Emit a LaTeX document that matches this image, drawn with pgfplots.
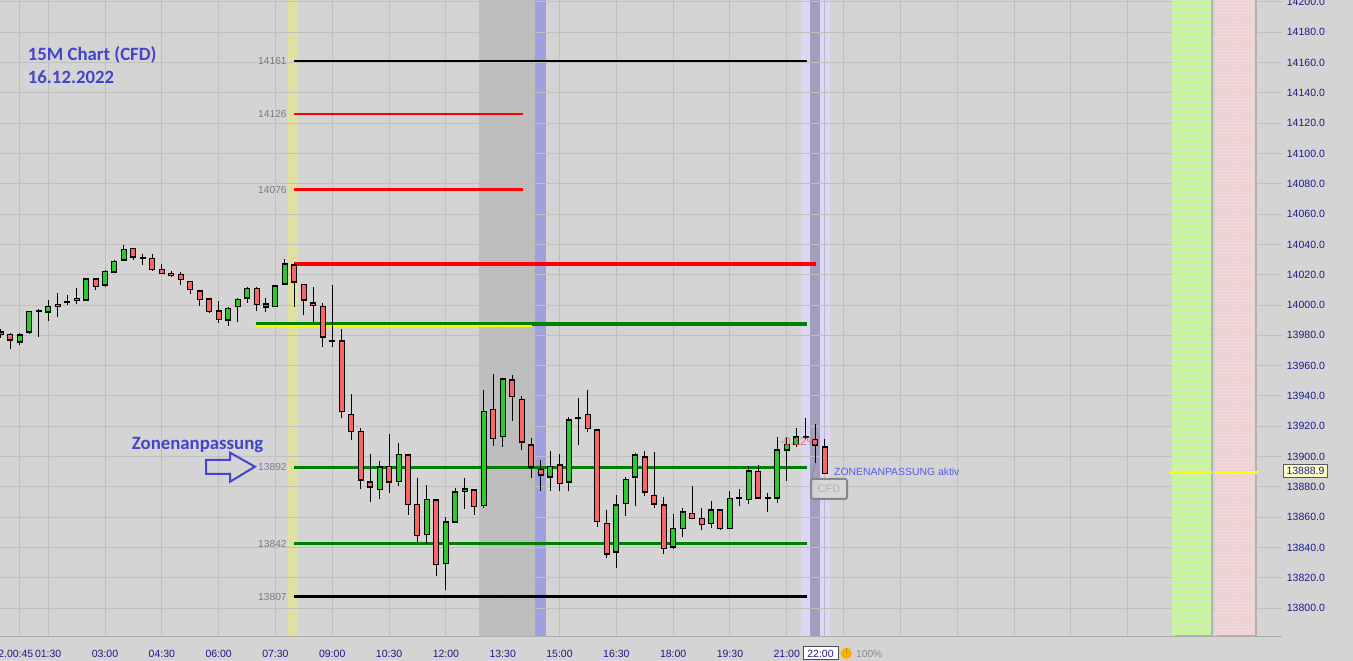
\documentclass[border=0pt]{standalone}
\usepackage{pgfplots}
\usepackage{pgfplotstable}
\pgfplotsset{compat=1.18}
\usepackage{fontspec}
\setmainfont{Liberation Sans}
\newfontfamily\calib{Carlito}
\usetikzlibrary{patterns.meta}

\definecolor{bg}{RGB}{212,212,212}
\definecolor{gridc}{RGB}{192,192,192}
\definecolor{navy}{RGB}{28,28,135}
\definecolor{lvlgrey}{RGB}{122,122,135}
\definecolor{titleblue}{RGB}{68,68,204}
\definecolor{cred}{RGB}{250,102,102}
\definecolor{cgreen}{RGB}{45,200,45}
\definecolor{lvlred}{RGB}{255,0,0}
\definecolor{lvlgreen}{RGB}{0,128,0}
\definecolor{lvlyellow}{RGB}{255,255,0}
\definecolor{bandyellow}{RGB}{224,224,160}
\definecolor{bandgrey}{RGB}{190,190,190}
\definecolor{bandblue}{RGB}{160,160,222}
\definecolor{bandlilac}{RGB}{220,214,245}
\definecolor{banddark}{RGB}{164,158,190}
\definecolor{vline}{RGB}{185,185,198}
\definecolor{pgreen}{RGB}{198,246,152}
\definecolor{pgreenl}{RGB}{214,232,204}
\definecolor{pred}{RGB}{240,208,208}
\definecolor{predl}{RGB}{229,222,222}
\definecolor{shadow}{RGB}{178,178,178}
\definecolor{sepgrey}{RGB}{172,172,172}
\definecolor{aktiv}{RGB}{90,90,230}
\definecolor{pctred}{RGB}{238,85,85}
\definecolor{tagyellow}{RGB}{255,255,204}
\definecolor{clockorange}{RGB}{255,175,0}
\definecolor{clockdark}{RGB}{215,130,0}

% 15-minute candles, n = quarter hours since 00:00
\pgfplotstableread{
n O H L C
1 13982.2 13984.4 13978.4 13980.6
2 13980.6 13981.3 13970.7 13976.7
3 13975.4 13981.5 13973.5 13980.0
4 13982.0 13996.0 13981.1 13995.8
5 13995.8 13997.6 13979.1 13996.0
6 13995.2 14003.3 13989.7 13999.1
7 13999.1 14007.7 13992.3 14000.4
8 14001.8 14006.4 14000.2 14001.9
9 14003.1 14011.0 14000.4 14004.4
10 14003.5 14017.0 14002.4 14017.0
11 14017.0 14017.0 14009.9 14012.3
12 14013.0 14023.1 14011.7 14022.2
13 14022.0 14029.7 14021.3 14028.8
14 14029.5 14039.6 14028.8 14036.7
15 14037.4 14037.4 14029.9 14031.5
16 14031.2 14033.4 14026.6 14031.1
17 14030.8 14033.7 14022.7 14023.5
18 14023.5 14027.1 14020.2 14020.9
19 14020.9 14022.2 14018.3 14019.6
20 14020.2 14021.6 14013.2 14016.9
21 14015.6 14015.6 14007.0 14010.3
22 14009.2 14009.9 13999.6 14003.7
23 14004.0 14004.0 13994.5 13995.8
24 13996.0 14002.6 13988.3 13990.5
25 13989.9 13998.9 13986.4 13997.8
26 13999.1 14004.4 13989.0 14003.7
27 14004.8 14012.1 14001.5 14011.0
28 14011.0 14012.1 13996.3 14000.4
29 14000.7 14004.4 13995.6 13998.5
30 13999.1 14013.2 13998.7 14012.5
31 14013.9 14030.4 14013.2 14027.1
32 14026.4 14027.5 13998.9 14015.0
33 14013.6 14013.6 13993.2 14003.3
34 14001.3 14011.7 13989.0 13999.8
35 13999.1 14001.5 13972.1 13978.7
36 13976.3 14013.2 13972.5 13976.2
37 13976.2 13983.9 13925.6 13929.8
38 13927.8 13941.3 13911.1 13916.6
39 13916.6 13918.6 13878.3 13884.3
40 13883.0 13901.7 13870.2 13879.7
41 13878.3 13897.0 13872.2 13892.9
42 13893.5 13914.9 13876.1 13883.0
43 13883.6 13908.9 13880.8 13901.4
44 13900.8 13901.4 13861.6 13868.4
45 13868.4 13885.8 13843.8 13847.8
46 13848.6 13881.2 13842.1 13871.7
47 13871.3 13872.0 13821.4 13828.8
48 13829.5 13859.9 13811.9 13856.6
49 13856.6 13879.0 13855.9 13876.4
50 13877.0 13885.8 13865.6 13878.6
51 13877.9 13878.6 13861.6 13867.1
52 13867.6 13943.9 13866.2 13929.8
53 13931.1 13954.5 13907.2 13912.0
54 13913.3 13952.0 13906.5 13951.2
55 13950.3 13953.6 13923.7 13939.7
56 13937.7 13939.9 13904.5 13909.4
57 13907.4 13912.0 13886.0 13892.9
58 13891.5 13897.7 13877.5 13887.6
59 13886.3 13903.6 13877.5 13893.5
60 13894.6 13901.7 13877.5 13882.3
61 13883.0 13925.9 13877.0 13923.9
62 13925.6 13938.6 13907.4 13925.7
63 13927.8 13943.9 13916.0 13918.6
64 13917.5 13918.0 13853.7 13857.2
65 13855.9 13864.7 13833.2 13835.7
66 13836.8 13874.6 13826.6 13867.8
67 13869.1 13886.7 13861.0 13884.9
68 13886.3 13902.3 13867.6 13900.8
69 13899.5 13903.4 13874.2 13876.4
70 13874.2 13903.2 13865.8 13868.7
71 13867.8 13873.1 13835.4 13839.4
72 13840.1 13861.8 13838.7 13852.6
73 13852.6 13866.2 13847.1 13863.2
74 13862.5 13880.5 13858.5 13859.2
75 13859.2 13865.8 13851.5 13855.2
76 13855.9 13870.6 13853.0 13864.5
77 13864.9 13864.9 13851.7 13852.6
78 13852.6 13877.0 13851.9 13872.4
79 13872.4 13878.6 13867.3 13872.5
80 13871.7 13894.0 13868.7 13890.4
81 13890.2 13894.2 13872.0 13872.8
82 13872.8 13875.7 13863.6 13872.9
83 13872.8 13912.7 13869.5 13904.1
84 13904.1 13912.7 13884.1 13908.0
85 13908.0 13918.6 13906.5 13913.1
86 13913.1 13925.2 13911.3 13913.2
87 13911.3 13921.5 13895.5 13907.4
88 13906.1 13911.3 13888.5 13888.9
}\candles

\pgfplotsset{
  chartbox/.style={
    at={(0,0)}, anchor=south west, scale only axis,
    width=1282pt, height=637pt,
    xmin=0.91, xmax=136.3, ymin=13780.9, ymax=14201.3,
  },
  band/.style={draw=none, fill=#1, forget plot},
  level/.style={draw=#1, line width=2.8pt, forget plot},
  candlebar/.style 2 args={draw=none, forget plot,
    error bars/.cd, y dir=plus, y explicit, error mark=none,
    error bar style={draw=#1, line width=#2}},
}

\begin{document}
\begin{tikzpicture}
\useasboundingbox (0,-24pt) rectangle (1353pt,637pt);
\fill[bg] (0,-24pt) rectangle (1353pt,637pt);

% session bands, below the grid
\begin{axis}[chartbox, hide axis]
\addplot[band=bandyellow] coordinates {(31.32,13780.9) (32.38,13780.9) (32.38,14201.3) (31.32,14201.3)};
\addplot[band=bandgrey] coordinates {(51.49,13780.9) (57.40,13780.9) (57.40,14201.3) (51.49,14201.3)};
\addplot[band=bandblue] coordinates {(57.40,13780.9) (58.56,13780.9) (58.56,14201.3) (57.40,14201.3)};
\addplot[band=bandlilac] coordinates {(85.49,13780.9) (88.55,13780.9) (88.55,14201.3) (85.49,14201.3)};
\addplot[band=banddark] coordinates {(86.44,13780.9) (87.50,13780.9) (87.50,14201.3) (86.44,14201.3)};
\addplot[draw=vline, line width=1pt, forget plot] coordinates {(88.03,13780.9) (88.03,14201.3)};
\end{axis}

\begin{axis}[chartbox,
  axis line style={draw=none},
  major tick length=0pt,
  grid=major,
  major grid style={draw=gridc, line width=1pt},
  xtick={3,6,12,18,24,30,36,42,48,54,60,66,72,78,84,90,96,102,108,114,120,126,132},
  xticklabels={{},01:30,03:00,04:30,06:00,07:30,09:00,10:30,12:00,13:30,15:00,16:30,18:00,19:30,21:00,{},{},{},{},{},{},{},{}},
  ytick={13780,13800,...,14200},
  yticklabel pos=right,
  scaled y ticks=false,
  /pgf/number format/fixed,
  /pgf/number format/fixed zerofill,
  /pgf/number format/precision=1,
  /pgf/number format/1000 sep={},
  /pgf/number format/assume math mode=true,
  ticklabel style={font=\fontsize{10.5}{12}\selectfont, text=navy},
  xticklabel style={anchor=base, inner sep=0pt, yshift=-20.3pt},
  yticklabel style={anchor=west, inner sep=0pt, xshift=4.7pt},
]
% zone levels
\addplot[level=black] coordinates {(31.96,14161) (86.1,14161)};
\addplot[level=lvlred] coordinates {(31.96,14126) (56.15,14126)};
\addplot[level=lvlred] coordinates {(31.96,14076) (56.15,14076)};
\addplot[level=lvlred, line width=3.8pt] coordinates {(31.96,14027.1) (87.1,14027.1)};
\addplot[level=lvlgreen, line width=3.4pt] coordinates {(27.94,13987.4) (86.1,13987.4)};
\addplot[level=lvlyellow, line width=2.6pt] coordinates {(27.80,13986.2) (57.06,13986.2)};
\addplot[level=lvlgreen] coordinates {(31.96,13892.8) (86.1,13892.8)};
\addplot[level=lvlgreen] coordinates {(31.96,13842.5) (86.1,13842.5)};
\addplot[level=black] coordinates {(31.96,13807.5) (86.1,13807.5)};

% candles: wicks, outlines, bodies
\addplot[candlebar={black}{1pt}] table[x=n, y=L, y error plus expr=\thisrow{H}-\thisrow{L}] {\candles};
\addplot[candlebar={black}{6pt}] table[x=n,
  y expr={min(\thisrow{O},\thisrow{C})-0.55},
  y error plus expr={abs(\thisrow{C}-\thisrow{O})+1.1}] {\candles};
\addplot[candlebar={cred}{4pt}] table[x=n,
  y expr={\thisrow{C}+0.55},
  y error plus expr={ifthenelse(\thisrow{O}-\thisrow{C}>1.1,\thisrow{O}-\thisrow{C}-1.1,0)}] {\candles};
\addplot[candlebar={cgreen}{4pt}] table[x=n,
  y expr={\thisrow{O}+0.55},
  y error plus expr={ifthenelse(\thisrow{C}-\thisrow{O}>1.1,\thisrow{C}-\thisrow{O}-1.1,0)}] {\candles};

\node[anchor=base west, inner sep=0pt, text=pctred, text opacity=0.85, font=\fontsize{11.5}{13}\selectfont]
  at (axis cs:83.3,13907.6) {-0.12\%};

% side panels
\addplot[band=shadow] coordinates {(124.95,13780.9) (129.02,13780.9) (129.02,14201.3) (124.95,14201.3)};
\addplot[band=shadow] coordinates {(129.47,13780.9) (133.70,13780.9) (133.70,14201.3) (129.47,14201.3)};
\addplot[band=pgreen] coordinates {(124.65,13782.2) (128.75,13782.2) (128.75,14201.3) (124.65,14201.3)};
\addplot[draw=none, forget plot, pattern={Lines[angle=0,distance=3pt,line width=1pt]}, pattern color=pgreenl]
  coordinates {(124.65,13782.2) (128.75,13782.2) (128.75,14201.3) (124.65,14201.3)};
\addplot[band=pred] coordinates {(129.2,13782.2) (133.4,13782.2) (133.4,14201.3) (129.2,14201.3)};
\addplot[draw=none, forget plot, pattern={Lines[angle=0,distance=3pt,line width=1pt]}, pattern color=predl]
  coordinates {(129.2,13782.2) (133.4,13782.2) (133.4,14201.3) (129.2,14201.3)};
\addplot[level=lvlyellow, line width=3pt] coordinates {(124.5,13889.3) (128.95,13889.3)};
\addplot[level=lvlyellow, line width=3pt] coordinates {(129.2,13889.3) (133.75,13889.3)};

% level labels
\foreach \v/\t in {14161/14161,14126/14126,14076/14076,13892.8/13892,13842.5/13842,13807.5/13807}{
  \edef\tmp{\noexpand\node[anchor=east, inner sep=0pt, text=lvlgrey, font=\noexpand\fontsize{10.2}{12}\noexpand\selectfont]
    at (axis cs:31.2,\v) {\t};}\tmp
}
\end{axis}

\draw[sepgrey, line width=1pt] (0,0) -- (1282pt,0);

% titles and notes
\node[anchor=base west, inner sep=0pt, text=titleblue, font=\calib\bfseries\fontsize{18.8}{22}\selectfont]
  at (27.7pt,576.3pt) {15M Chart (CFD)};
\node[anchor=base west, inner sep=0pt, text=titleblue, font=\calib\bfseries\fontsize{18.8}{22}\selectfont]
  at (27.7pt,553.7pt) {16.12.2022};
\node[anchor=base west, inner sep=0pt, text=titleblue, font=\calib\bfseries\fontsize{18.8}{22}\selectfont]
  at (131.7pt,187pt) {Zonenanpassung};
\draw[titleblue, line width=2pt, line join=miter]
  (206pt,177pt) -- (230pt,177pt) -- (230pt,184.3pt) -- (255pt,170.3pt)
  -- (230pt,155.3pt) -- (230pt,163pt) -- (206pt,163pt) -- cycle;

\node[anchor=base west, inner sep=0pt, text=aktiv, font=\fontsize{10.4}{12}\selectfont]
  at (834pt,161pt) {ZONENANPASSUNG aktiv};
\draw[sepgrey!80!black, line width=1pt] (811.5pt,158pt) -- (815pt,173.7pt);
\draw[draw=black!47, line width=2pt, fill=bg!90!white, fill opacity=0.85, rounded corners=1.5pt]
  (811pt,138pt) rectangle (847pt,158pt);
\node[text=black!31, font=\fontsize{11}{13}\selectfont] at (829pt,148pt) {CFD};

% price tag on the scale
\node[draw=black!65, line width=1pt, fill=tagyellow, text=navy,
  minimum width=44.4pt, minimum height=13.4pt, inner sep=0pt, font=\fontsize{10.5}{12}\selectfont]
  at (1305.5pt,166pt) {13888.9};

% time scale extras
\node[anchor=base east, inner sep=0pt, text=navy, font=\fontsize{10.5}{12}\selectfont]
  at (33.5pt,-20.3pt) {2.00:45};
\node[draw=black!70, line width=1pt, fill=white, text=navy, minimum width=35pt, minimum height=13pt,
  inner sep=0pt, font=\fontsize{10.5}{12}\selectfont] at (820.5pt,-16.5pt) {22:00};
\fill[clockorange] (846.3pt,-16.3pt) circle (5.6pt);
\draw[clockdark, line width=0.8pt] (846.3pt,-16.3pt) -- (846.3pt,-10.7pt);
\node[anchor=base west, inner sep=0pt, text=black!45, font=\fontsize{10.2}{12}\selectfont]
  at (856pt,-20.3pt) {100\%};
\end{tikzpicture}
\end{document}
